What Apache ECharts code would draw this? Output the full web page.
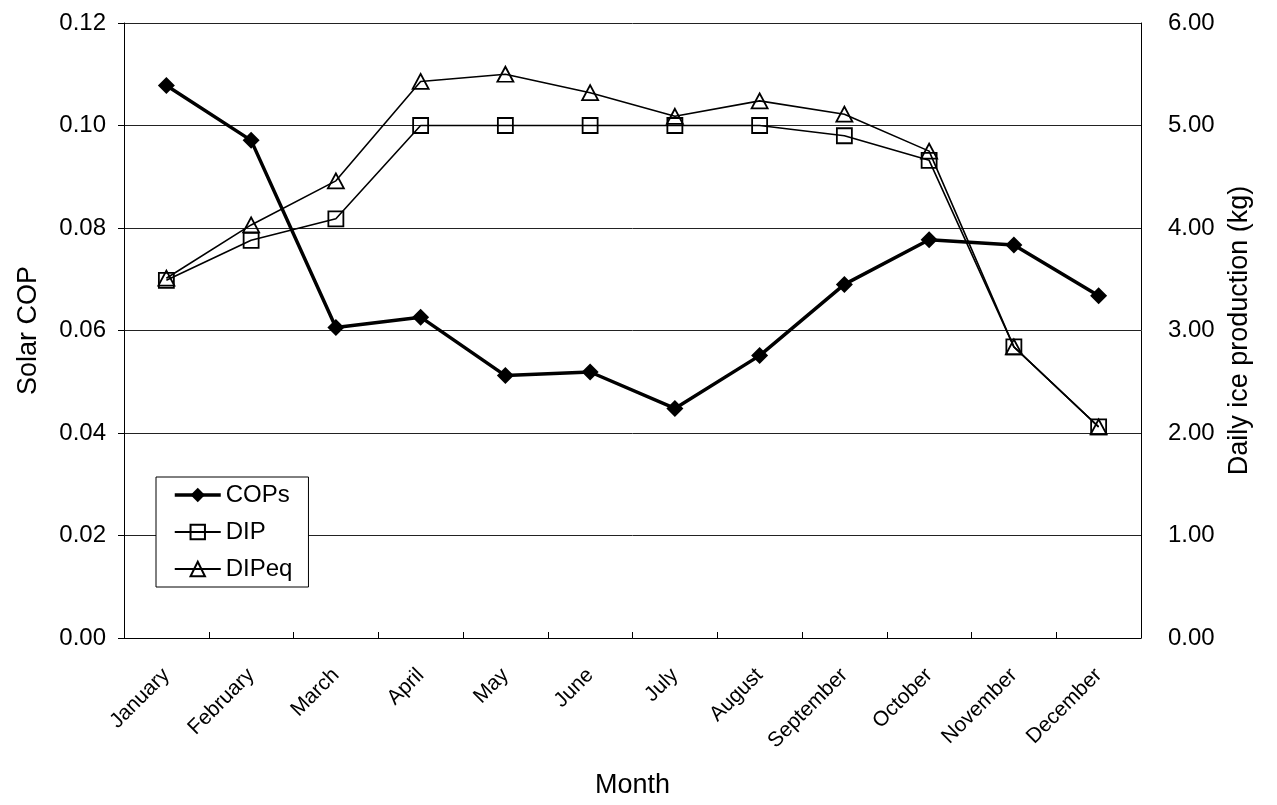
<!DOCTYPE html>
<html>
<head>
<meta charset="utf-8">
<script src="https://cdn.jsdelivr.net/npm/echarts@6/dist/echarts.min.js"></script>
<style>
html,body{margin:0;padding:0;background:#fff;}
#chart{width:1277px;height:805px;}
</style>
</head>
<body>
<div id="chart"></div>
<script>
const months = ['January','February','March','April','May','June','July','August','September','October','November','December'];
const cops  = [0.1078, 0.0971, 0.0606, 0.0626, 0.0512, 0.0519, 0.0448, 0.0551, 0.0690, 0.0777, 0.0767, 0.0668];
const dip   = [3.49, 3.88, 4.09, 5.00, 5.00, 5.00, 5.00, 5.00, 4.90, 4.66, 2.84, 2.06];
const dipeq = [3.51, 4.03, 4.46, 5.43, 5.50, 5.32, 5.09, 5.24, 5.11, 4.75, 2.84, 2.06];

const FONT = '"Liberation Sans", Arial, sans-serif';
const chart = echarts.init(document.getElementById('chart'), null, {renderer:'canvas'});
chart.setOption({
  animation: false,
  backgroundColor: '#fff',
  textStyle: {fontFamily: FONT, color: '#000'},
  grid: {left: 124, right: 136, top: 23, bottom: 167},
  legend: {
    orient: 'vertical', left: 156, top: 477,
    backgroundColor: '#fff', borderColor: '#000', borderWidth: 1,
    padding: [6, 16, 6, 17], itemGap: 13, itemWidth: 46, itemHeight: 18,
    textStyle: {fontFamily: FONT, fontSize: 24, color: '#000'},
    data: [
      {name: 'COPs', lineStyle: {width: 3.5, color: '#000'}},
      {name: 'DIP'},
      {name: 'DIPeq'}
    ]
  },
  xAxis: {
    type: 'category', data: months, boundaryGap: true,
    name: 'Month', nameLocation: 'middle', nameGap: 134,
    nameTextStyle: {fontFamily: FONT, fontSize: 27, color: '#000'},
    axisLine: {lineStyle: {color: '#000', width: 1}},
    axisTick: {show: true, inside: true, length: 6, lineStyle: {color: '#000'}},
    axisLabel: {rotate: 45, fontSize: 21, color: '#000', margin: 34, interval: 0, fontFamily: FONT},
    splitLine: {show: false}
  },
  yAxis: [{
    type: 'value', min: 0, max: 0.12, interval: 0.02, position: 'left',
    name: 'Solar COP', nameLocation: 'middle', nameGap: 82, nameRotate: 90,
    nameTextStyle: {fontFamily: FONT, fontSize: 27, color: '#000'},
    axisLine: {show: true, lineStyle: {color: '#000', width: 1}},
    axisTick: {show: true, inside: false, length: 6, lineStyle: {color: '#000'}},
    axisLabel: {formatter: v => v.toFixed(2), fontSize: 24, color: '#000', margin: 18, fontFamily: FONT},
    splitLine: {show: true, lineStyle: {color: '#222', width: 1}}
  },{
    type: 'value', min: 0, max: 6, interval: 1, position: 'right',
    name: 'Daily ice production (kg)', nameLocation: 'middle', nameGap: 82, nameRotate: 90,
    nameTextStyle: {fontFamily: FONT, fontSize: 27, color: '#000'},
    axisLine: {show: true, lineStyle: {color: '#000', width: 1}},
    axisTick: {show: false},
    axisLabel: {formatter: v => v.toFixed(2), fontSize: 24, color: '#000', margin: 27, fontFamily: FONT},
    splitLine: {show: false}
  }],
  series: [{
    name: 'COPs', type: 'line', yAxisIndex: 0, data: cops,
    symbol: 'diamond', symbolSize: 17,
    itemStyle: {color: '#000'},
    lineStyle: {color: '#000', width: 3.5}
  },{
    name: 'DIP', type: 'line', yAxisIndex: 1, data: dip,
    symbol: 'rect', symbolSize: 15,
    itemStyle: {color: 'rgba(0,0,0,0)', borderColor: '#000', borderWidth: 1.8},
    lineStyle: {color: '#000', width: 1.6}
  },{
    name: 'DIPeq', type: 'line', yAxisIndex: 1, data: dipeq,
    symbol: 'triangle', symbolSize: [16, 15],
    itemStyle: {color: 'rgba(0,0,0,0)', borderColor: '#000', borderWidth: 1.8},
    lineStyle: {color: '#000', width: 1.6}
  }]
});
</script>
</body>
</html>
